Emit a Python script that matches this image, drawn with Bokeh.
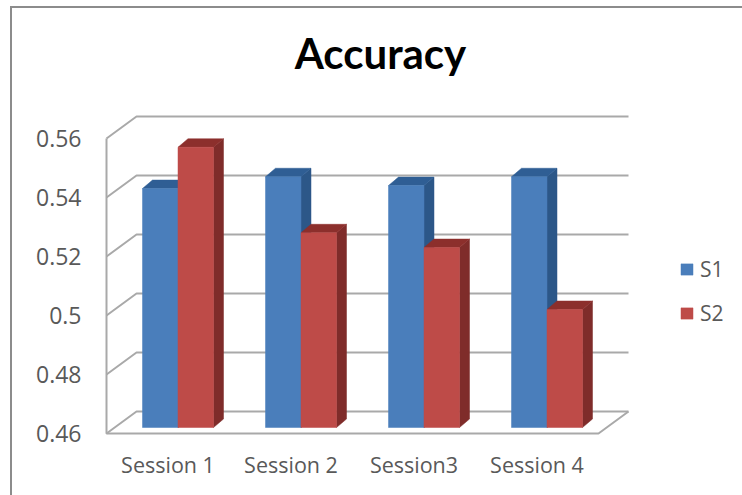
from bokeh.embed import file_html
from bokeh.resources import INLINE
from bokeh.plotting import figure
from bokeh.models import FixedTicker, Legend, LegendItem

sessions = ["Session 1", "Session 2", "Session3", "Session 4"]
s1_values = [0.541, 0.545, 0.542, 0.545]
s2_values = [0.555, 0.526, 0.521, 0.500]
y_ticks = [0.46, 0.48, 0.50, 0.52, 0.54, 0.56]
y_labels = ["0.46", "0.48", "0.5", "0.52", "0.54", "0.56"]

# data units per pixel on each axis
PX_X = 1 / 123
PX_Y = 0.02 / 59

WALL_DX = 30 * PX_X
WALL_DY = 22 * PX_Y
BAR_DX = 10 * PX_X
BAR_DY = 8.5 * PX_Y
BAR_LIFT = 6 * PX_Y
BAR_W = 35.5 * PX_X
Y0 = 0.46
FLOOR_L, FLOOR_R = 0.5, 4.5

TEXT = "#595959"
GRID = "#a9a9a9"
EDGE = "#8c8c8c"
BLUE, BLUE_SIDE, BLUE_TOP = "#4a7ebb", "#2c5788", "#2f5e94"
RED, RED_SIDE, RED_TOP = "#be4b48", "#7f2c2a", "#8c2f2c"

# the chart area's border runs along the page's left and top only
p = figure(
    width=730, height=487, frame_width=552, frame_height=355,
    x_range=(FLOOR_L - 2 * PX_X, FLOOR_L + 550 * PX_X),
    y_range=(Y0 - 2 * PX_Y, Y0 + 353 * PX_Y),
    min_border_left=92, min_border_right=0, min_border_top=72, min_border_bottom=60,
    output_backend="svg", toolbar_location=None, tools="",
    title="Accuracy",
    styles={"margin-left": "10px", "margin-top": "6px",
            "border-left": f"2px solid {EDGE}", "border-top": f"2px solid {EDGE}"},
)
p.title.align = "center"
p.title.text_font = "Lato"
p.title.text_font_size = "42px"
p.title.text_font_style = "bold"
p.title.text_color = "#000000"
p.title.standoff = 6
p.outline_line_color = None
p.background_fill_color = "#ffffff"
p.border_fill_color = "#ffffff"
p.grid.visible = False

p.xaxis.ticker = FixedTicker(ticks=[1, 2, 3, 4])
p.xaxis.major_label_overrides = {i + 1: s for i, s in enumerate(sessions)}
p.yaxis.ticker = FixedTicker(ticks=y_ticks)
p.yaxis.major_label_overrides = dict(zip(y_ticks, y_labels))
for ax in (p.xaxis[0], p.yaxis[0]):
    ax.axis_line_color = None
    ax.major_tick_line_color = None
    ax.minor_tick_line_color = None
    ax.major_label_text_font = "Open Sans"
    ax.major_label_text_color = TEXT
p.xaxis.major_label_text_font_size = "21.5px"
p.xaxis.major_label_standoff = 8
p.yaxis.major_label_text_font_size = "23px"
p.yaxis.major_label_standoff = 17

# back wall gridlines and the side-wall returns
for v in y_ticks:
    p.line([FLOOR_L, FLOOR_L + WALL_DX, FLOOR_R + WALL_DX],
           [v, v + WALL_DY, v + WALL_DY], line_color=GRID, line_width=2)
# front edge of the wall and the floor outline
p.line([FLOOR_L, FLOOR_L, FLOOR_R, FLOOR_R + WALL_DX],
       [y_ticks[-1], Y0, Y0, Y0 + WALL_DY], line_color=GRID, line_width=2)


def draw_series(values, shift, front, side, top):
    """Draw one series of boxes: side and top faces, then the front face."""
    lefts = [i + 1 + BAR_DX + shift for i in range(len(values))]
    base = Y0 + BAR_LIFT
    tops = [v + BAR_LIFT for v in values]
    p.patches(
        [[x + BAR_W, x + BAR_W + BAR_DX, x + BAR_W + BAR_DX, x + BAR_W] for x in lefts],
        [[base, base + BAR_DY, t + BAR_DY, t] for t in tops],
        fill_color=side, line_color=side, line_width=0.5,
    )
    p.patches(
        [[x, x + BAR_W, x + BAR_W + BAR_DX, x + BAR_DX] for x in lefts],
        [[t, t, t + BAR_DY, t + BAR_DY] for t in tops],
        fill_color=top, line_color=top, line_width=0.5,
    )
    return p.vbar(
        x=[x + BAR_W / 2 for x in lefts], top=tops, bottom=base, width=BAR_W,
        fill_color=front, line_color=front, line_width=0.5,
    )


r1 = draw_series(s1_values, -BAR_W, BLUE, BLUE_SIDE, BLUE_TOP)
r2 = draw_series(s2_values, 0, RED, RED_SIDE, RED_TOP)

legend = Legend(
    items=[LegendItem(label="S1", renderers=[r1]), LegendItem(label="S2", renderers=[r2])],
    location=(23, 108), border_line_color=None, background_fill_alpha=0,
    padding=0, spacing=16, glyph_width=15, glyph_height=14,
    label_standoff=6, label_height=16,
    label_text_font="Open Sans", label_text_font_size="21px", label_text_color=TEXT,
)
legend.margin = 25
p.add_layout(legend, "right")

open("out.html", "w").write(file_html(p, INLINE))
